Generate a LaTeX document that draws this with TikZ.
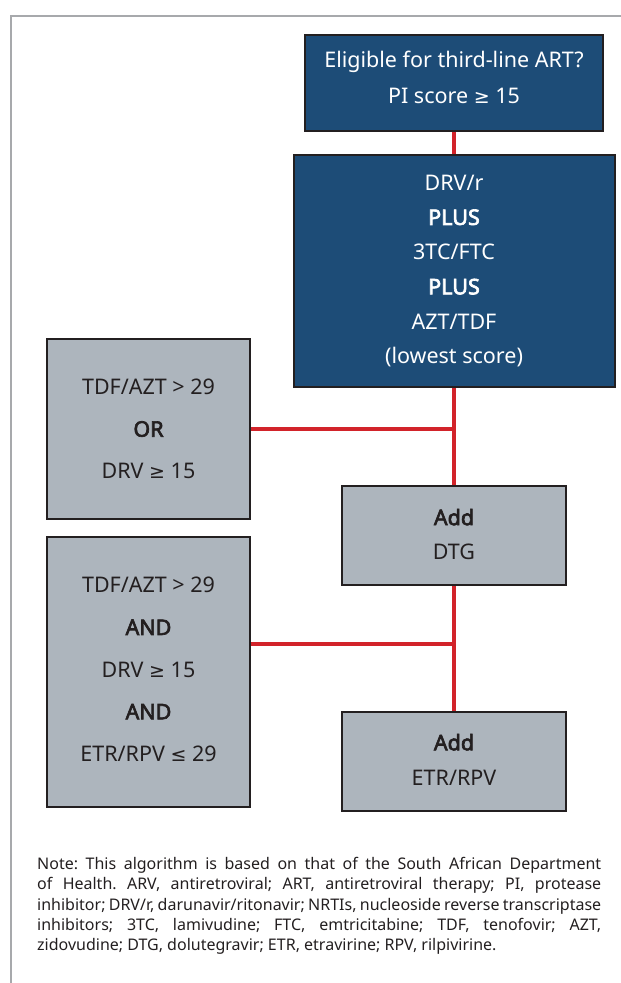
\documentclass[tikz,border=0pt]{standalone}
\usepackage{fontspec}
\setmainfont{Noto Sans}[BoldFont={Noto Sans},BoldFeatures={FakeBold=3}]
\newfontfamily\symfont{DejaVu Sans}
\newcommand{\geqsym}{{\symfont\fontsize{19}{19}\selectfont ≥}}
\newcommand{\leqsym}{{\symfont\fontsize{19}{19}\selectfont ≤}}
\definecolor{boxblue}{HTML}{1D4C77}
\definecolor{boxgray}{HTML}{ADB5BD}
\definecolor{edge}{HTML}{231F20}
\definecolor{linkred}{HTML}{D2232A}
\definecolor{frame}{HTML}{A7A9AC}
\begin{document}
\begin{tikzpicture}[x=1pt,y=-1pt,
  boxbase/.style={draw=edge,line width=2pt,inner sep=0pt},
  bluebox/.style={boxbase,fill=boxblue},
  graybox/.style={boxbase,fill=boxgray},
  bluetext/.style={text=white,align=center,inner sep=0pt,font=\fontsize{21.5}{34.7}\selectfont},
  graytext/.style={text=edge,align=center,inner sep=0pt,font=\fontsize{21.5}{42.2}\selectfont},
  addtext/.style={text=edge,align=center,inner sep=0pt,font=\fontsize{21.5}{34.8}\selectfont},
  link/.style={draw=linkred,line width=4pt}]
\useasboundingbox (0,0) rectangle (621,983);
\draw[frame,line width=2pt] (10,16) -- (621,16);
\draw[frame,line width=2pt] (11,16) -- (11,983);
% boxes
\node[bluebox,minimum width=298pt,minimum height=96pt] (top) at (454,83) {};
\node[bluetext] (toptext) at ([yshift=6pt]top.center) {Eligible for third-line ART?\\[1.5pt]PI score \geqsym{} 15};
\node[bluebox,minimum width=321pt,minimum height=232pt] (main) at (454,271) {};
\node[bluetext] (maintext) at (main.center) {DRV/r\\\textbf{PLUS}\\3TC/FTC\\\textbf{PLUS}\\AZT/TDF\\(lowest score)};
\node[graybox,minimum width=203pt,minimum height=180pt] (c1) at (148.5,429) {};
\node[graytext] (c1text) at (c1.center) {TDF/AZT > 29\\\textbf{OR}\\DRV \geqsym{} 15};
\node[graybox,minimum width=203pt,minimum height=270pt] (c2) at (148.5,672) {};
\node[graytext] (c2text) at ([yshift=2.5pt]c2.center) {TDF/AZT > 29\\\textbf{AND}\\DRV \geqsym{} 15\\\textbf{AND}\\ETR/RPV \leqsym{} 29};
\node[graybox,minimum width=224pt,minimum height=99pt] (dtg) at (454,535.5) {};
\node[addtext] (dtgtext) at ([yshift=1pt]dtg.center) {\textbf{Add}\\DTG};
\node[graybox,minimum width=224pt,minimum height=99pt] (etr) at (454,761.5) {};
\node[addtext] (etrtext) at ([yshift=2pt]etr.center) {\textbf{Add}\\ETR/RPV};
% connectors
\coordinate (j1) at (454,429);
\coordinate (j2) at (454,644);
\draw[link] (top.south) -- (main.north);
\draw[link] (main.south) -- (dtg.north);
\draw[link] (dtg.south) -- (etr.north);
\draw[link] (c1.east) -- (j1);
\draw[link] (c2.east |- j2) -- (j2);
% note
\node[anchor=north west,inner sep=0pt,text width=564pt,align=justify,text=edge,
  font=\fontsize{16}{20.3}\selectfont] (note) at (37,857)
  {\frenchspacing\hyphenpenalty=10000\relax\spaceskip=0.26em plus 0.6em minus 0.14em\relax
  Note: This algorithm is based on that of the South African Department\linebreak
  of Health. ARV, antiretroviral; ART, antiretroviral therapy; PI, protease\linebreak
  inhibitor; DRV/r, darunavir/ritonavir; NRTIs, nucleoside reverse transcriptase\linebreak
  inhibitors; 3TC, lamivudine; FTC, emtricitabine; TDF, tenofovir; AZT,\linebreak
  zidovudine; DTG, dolutegravir; ETR, etravirine; RPV, rilpivirine.};
\end{tikzpicture}
\end{document}
